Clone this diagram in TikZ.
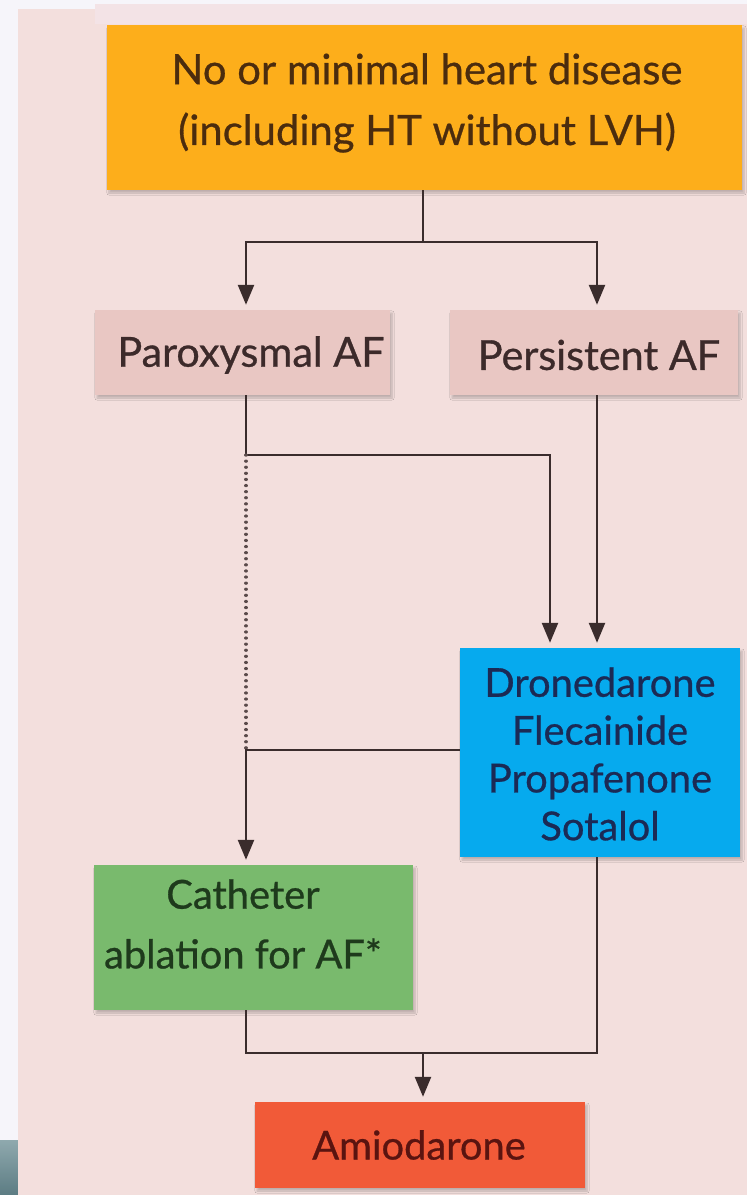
\documentclass[tikz,border=0pt]{standalone}
\usepackage{fontspec}
\setmainfont[FakeBold=0.7]{Lato}
\usetikzlibrary{arrows.meta,shadows.blur}

\definecolor{pagebg}{HTML}{F6F5FA}
\definecolor{panelbg}{HTML}{F3DFDD}
\definecolor{panellight}{HTML}{F3E3E6}
\definecolor{stripdark}{HTML}{5C7C83}
\definecolor{striplight}{HTML}{8FA9AE}
\definecolor{linecol}{HTML}{3A2C2C}
\definecolor{dotcol}{HTML}{5A4A4A}
\definecolor{orangebox}{HTML}{FDAE1B}
\definecolor{orangetext}{HTML}{4B2C0E}
\definecolor{pinkbox}{HTML}{E9C7C3}
\definecolor{pinktext}{HTML}{3C2A2A}
\definecolor{bluebox}{HTML}{06AAEE}
\definecolor{bluetext}{HTML}{1B2A55}
\definecolor{greenbox}{HTML}{79BA6D}
\definecolor{greentext}{HTML}{1E3A1C}
\definecolor{redbox}{HTML}{F15A38}
\definecolor{redtext}{HTML}{5A1410}

\tikzset{
  box/.style={rectangle, inner sep=0pt, draw=none,
    blur shadow={shadow xshift=2bp, shadow yshift=-3bp,
                 shadow blur steps=6, shadow opacity=22}},
  txt/.style={align=center, inner sep=0pt,
    font=\fontsize{40}{60}\selectfont},
  link/.style={draw=linecol, line width=2.4bp},
  arr/.style={link, -{Triangle[length=20bp,width=16bp]}, shorten >=5bp},
  dotline/.style={draw=dotcol, line width=3.2bp, line cap=round,
    dash pattern=on 0.1bp off 6bp}
}

\begin{document}
\begin{tikzpicture}[x=1bp,y=-1bp]
\useasboundingbox (0,0) rectangle (747,1195);

% backdrop
\fill[pagebg] (0,0) rectangle (747,1195);
\shade[top color=striplight, bottom color=stripdark] (0,1140) rectangle (18,1195);
\fill[panelbg] (18,9) rectangle (747,1195);
\fill[panellight] (95,4) rectangle (747,24);
\fill[panelbg] (95,24) rectangle (747,1195);

% boxes
\node[box, fill=orangebox, minimum width=635bp, minimum height=165bp] (top) at (424.5,107.5) {};
\node[box, fill=pinkbox, minimum width=295bp, minimum height=85bp] (parox) at (242.5,352.5) {};
\node[box, fill=pinkbox, minimum width=288bp, minimum height=85bp] (pers) at (594,352.5) {};
\node[box, fill=bluebox, minimum width=280bp, minimum height=209bp] (drugs) at (600,752.5) {};
\node[box, fill=greenbox, minimum width=319bp, minimum height=145bp] (cath) at (253.5,937.5) {};
\node[box, fill=redbox, minimum width=330bp, minimum height=86bp] (amio) at (420,1145) {};

% box texts
\node[txt, text=orangetext, font=\fontsize{42}{61}\selectfont] (topT) at (427,103) {No or minimal heart disease\\(including HT without LVH)};
\node[txt, text=pinktext, font=\fontsize{41.5}{60}\selectfont] (paroxT) at (251,355) {Paroxysmal AF};
\node[txt, text=pinktext, font=\fontsize{41.5}{60}\selectfont] (persT) at (599,355) {Persistent AF};
\node[txt, text=bluetext, font=\fontsize{40}{48}\selectfont] (drugsT) at (600,754) {Dronedarone\\Flecainide\\Propafenone\\Sotalol};
\node[txt, text=greentext, font=\fontsize{40}{60}\selectfont] (cathT) at (243,924) {Catheter\\ablation for AF*};
\node[txt, text=redtext] (amioT) at (419,1145) {Amiodarone};

% column and junction points
\coordinate (cL) at (246,0);
\coordinate (cC) at (423,0);
\coordinate (cM) at (550,0);
\coordinate (cR) at (597,0);
\coordinate (j1) at (423,242);
\coordinate (j2) at (246,455);
\coordinate (j3) at (246,750);
\coordinate (j4) at (423,1053);

% connectors
\draw[link] (top.south -| cC) -- (j1);
\draw[arr] (j1) -| (parox.north -| cL);
\draw[arr] (j1) -| (pers.north -| cR);
\draw[link] (parox.south -| cL) -- (j2);
\draw[arr] (j2) -| (drugs.north -| cM);
\draw[arr] (pers.south -| cR) -- (drugs.north -| cR);
\draw[dotline] (j2) -- (j3);
\draw[arr] (drugs.west |- j3) -| (cath.north -| cL);
\draw[link] (cath.south -| cL) |- (j4);
\draw[link] (drugs.south -| cR) |- (j4);
\draw[arr] (j4) -- (amio.north -| cC);
\end{tikzpicture}
\end{document}
